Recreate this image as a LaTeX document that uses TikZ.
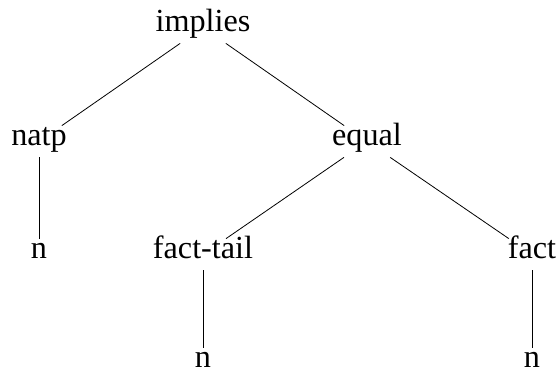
\documentclass[tikz,border=0pt]{standalone}
\usepackage{fontspec}
\setmainfont{Liberation Serif}
\usepackage{tikz}
\usetikzlibrary{positioning}

\tikzset{
  term/.style={anchor=base, inner sep=3pt, text height=0.7em, text depth=0.25em},
  branch/.style={black, line width=0.4pt}
}

\begin{document}
\begin{tikzpicture}[font=\fontsize{16.1}{19}\selectfont, x=0.5pt, y=-0.5pt]
  \useasboundingbox (0,0) rectangle (558,374);

  % levels of the tree
  \node[term] (implies) at (203,32) {implies};
  \node[term] (natp) at (39,146) {natp};
  \node[term] (equal) at (367,146) {equal};
  \node[term] (natpArg) at (39,259) {n};
  \node[term] (factTail) at (203,259) {fact-tail};
  \node[term] (fact) at (532,259) {fact};
  \node[term] (factTailArg) at (203,368) {n};
  \node[term] (factArg) at (532,368) {n};

  \draw[branch] (implies) -- (natp);
  \draw[branch] (implies) -- (equal);
  \draw[branch] (natp) -- (natpArg);
  \draw[branch] (equal) -- (factTail);
  \draw[branch] (equal) -- (fact);
  \draw[branch] (factTail) -- (factTailArg);
  \draw[branch] (fact) -- (factArg);
\end{tikzpicture}
\end{document}
